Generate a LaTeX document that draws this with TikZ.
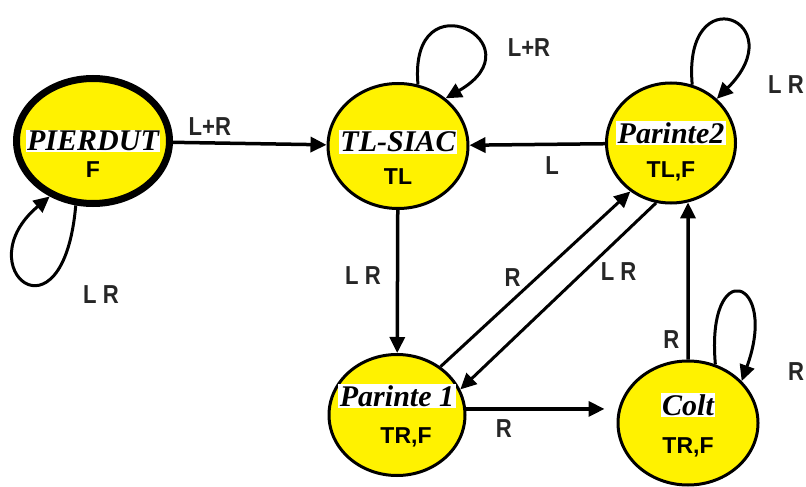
\documentclass[tikz,border=0pt]{standalone}
\usepackage{fontspec}
\setmainfont{Liberation Serif}
\setsansfont{Liberation Sans}
\newfontfamily\lblfont[FakeStretch=0.85]{Liberation Sans Bold}
\usetikzlibrary{arrows.meta,shapes.geometric}
\tikzset{
  state/.style={ellipse,draw,line width=3pt,fill=yellow,inner sep=0pt},
  title/.style={fill=white,inner sep=1.5pt,font=\fontsize{30}{30}\selectfont\bfseries\itshape},
  outp/.style={inner sep=0pt,font=\fontsize{23}{23}\selectfont\sffamily\bfseries},
  elbl/.style={inner sep=1pt,text=black!85,font=\fontsize{26}{26}\selectfont\lblfont},
  edge/.style={line width=3.5pt},
  diag/.style={line width=3pt},
  selfloop/.style={line width=3pt}
}
\begin{document}
\begin{tikzpicture}[x=1pt,y=-1pt,>={Triangle[length=16pt,width=15pt]}]
    \useasboundingbox (0,0) rectangle (806,487);
    \node[state,line width=7pt,minimum width=153pt,minimum height=125pt] (pierdut) at (93,141) {};
    \node[state,minimum width=140pt,minimum height=125pt] (tlsiac) at (398,146) {};
    \node[state,minimum width=129pt,minimum height=120pt] (parinte2) at (671,143) {};
    \node[state,minimum width=136pt,minimum height=121pt] (parinte1) at (397,415) {};
    \node[state,minimum width=140pt,minimum height=124pt] (colt) at (688,423) {};
    \node[title] (tpierdut) at ([yshift=0pt]pierdut.center) {PIERDUT};
    \node[outp] (opierdut) at ([yshift=-29pt]pierdut.center) {F};
    \node[title] (ttlsiac) at ([yshift=4pt]tlsiac.center) {TL-SIAC};
    \node[outp] (otlsiac) at ([yshift=-31pt]tlsiac.center) {TL};
    \node[title] (tparinte2) at ([yshift=10pt]parinte2.center) {Parinte2};
    \node[outp] (oparinte2) at ([yshift=-28pt]parinte2.center) {TL,F};
    \node[title] (tparinte1) at ([yshift=19pt]parinte1.center) {Parinte 1};
    \node[outp] (oparinte1) at ([xshift=9pt,yshift=-22pt]parinte1.center) {TR,F};
    \node[title] (tcolt) at ([yshift=18pt]colt.center) {Colt};
    \node[outp] (ocolt) at ([yshift=-24pt]colt.center) {TR,F};
    \draw[edge,->] (pierdut) -- (tlsiac) node[elbl,pos=0.24,above=5pt] {L+R};
    \draw[edge,->] (parinte2) -- (tlsiac) node[elbl,pos=0.39,below=10pt] {L};
    \draw[edge,->] (tlsiac) -- (parinte1) node[elbl,pos=0.46,left=14pt] {L R};
    \draw[diag,->] (parinte1.48) -- (parinte2.230) node[elbl,pos=0.44,above left=1pt] {R};
    \draw[diag,->] (parinte2.256) -- (parinte1.22) node[elbl,pos=0.3,below right=1pt] {L R};
    \draw[edge,->,shorten >=12pt] (parinte1.5) -- (parinte1.5 -| colt.west) node[elbl,pos=0.25,below=8pt] {R};
    \draw[edge,->] (colt.north) -- (parinte2.286) node[elbl,pos=0.13,left=6pt] {R};
    \draw[selfloop,->] (pierdut.255) to[out=265,in=220,out distance=145pt,in distance=110pt] (pierdut.232);
    \draw[selfloop,->] (tlsiac.72) to[out=95,in=30,distance=110pt] (tlsiac.45);
    \draw[selfloop,->] (parinte2.70) to[out=95,in=45,distance=110pt] (parinte2.44);
    \draw[selfloop,->] (colt.65) to[out=95,in=70,distance=110pt] (colt.38);
    \node[elbl] (lpierdut) at (101,295) {L R};
    \node[elbl] (ltlsiac) at (529,48) {L+R};
    \node[elbl,anchor=east] (lparinte2) at (805,85) {L R};
    \node[elbl] (lcolt) at (796,372) {R};
\end{tikzpicture}
\end{document}
